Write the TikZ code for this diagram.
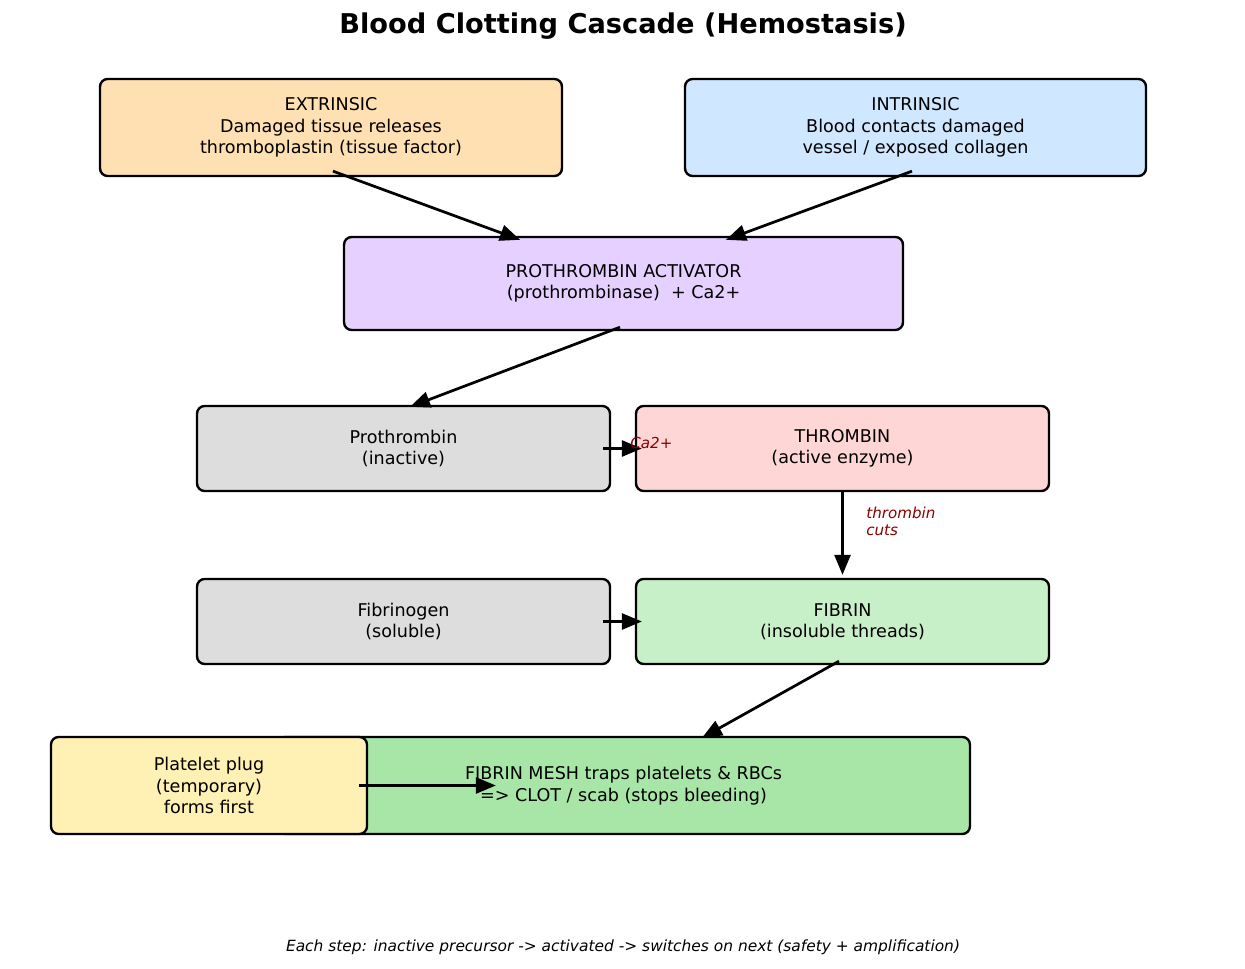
\documentclass[tikz,border=0pt]{standalone}
\usepackage{fontspec}
\setmainfont{DejaVu Sans}
\definecolor{extorange}{RGB}{255, 224, 178}
\definecolor{intblue}{RGB}{208, 232, 255}
\definecolor{actpurple}{RGB}{230, 208, 255}
\definecolor{inactgray}{RGB}{221, 221, 221}
\definecolor{thrpink}{RGB}{255, 214, 214}
\definecolor{fibgreen}{RGB}{200, 240, 200}
\definecolor{meshgreen}{RGB}{168, 230, 168}
\definecolor{plugyellow}{RGB}{255, 240, 180}
\definecolor{labred}{RGB}{139, 0, 0}
\usetikzlibrary{arrows.meta, calc}

\begin{document}
\begin{tikzpicture}[x=0.02cm, y=-0.02cm,
  box/.style={draw, line width=1.35pt, rounded corners=0.15cm, align=center, inner sep=0pt,
    font=\fontsize{10}{12.2}\selectfont},
  arr/.style={-{Triangle[length=0.4cm, width=0.32cm]}, line width=1.55pt},
  lab/.style={text=labred, font=\fontsize{8.6}{9.8}\itshape\selectfont, inner sep=0pt}]
  \useasboundingbox (0, 0) rectangle (1245, 969);

  \node[font=\fontsize{15.5}{18}\bfseries\selectfont] (title) at (623, 26) {Blood Clotting Cascade (Hemostasis)};

  % Pathways
  \node[box, fill=extorange, minimum width=9.24cm, minimum height=1.94cm] (ext) at (331, 127.5)
    {EXTRINSIC\\Damaged tissue releases\\thromboplastin (tissue factor)};
  \node[box, fill=intblue, minimum width=9.22cm, minimum height=1.94cm] (int) at (915.5, 127.5)
    {INTRINSIC\\Blood contacts damaged\\vessel / exposed collagen};

  % Activator
  \node[box, fill=actpurple, minimum width=11.18cm, minimum height=1.86cm] (act) at (623.5, 283.5)
    {PROTHROMBIN ACTIVATOR\\(prothrombinase)\ \ + Ca2+};

  % Prothrombin -> thrombin
  \node[box, fill=inactgray, minimum width=8.26cm, minimum height=1.7cm] (pro) at (403.5, 448.5)
    {Prothrombin\\(inactive)};
  \node[box, fill=thrpink, minimum width=8.26cm, minimum height=1.7cm] (thr) at (842.5, 448.5)
    {THROMBIN\\(active enzyme)};

  % Fibrinogen -> fibrin
  \node[box, fill=inactgray, minimum width=8.26cm, minimum height=1.7cm] (fgn) at (403.5, 621.5)
    {Fibrinogen\\(soluble)};
  \node[box, fill=fibgreen, minimum width=8.26cm, minimum height=1.7cm] (fbn) at (842.5, 621.5)
    {FIBRIN\\(insoluble threads)};

  % Clot
  \node[box, fill=meshgreen, minimum width=13.86cm, minimum height=1.94cm] (mesh) at (623.5, 785.5)
    {FIBRIN MESH traps platelets \& RBCs\\=> CLOT / scab (stops bleeding)};
  \node[box, fill=plugyellow, minimum width=6.32cm, minimum height=1.94cm] (plug) at (209, 785.5)
    {Platelet plug\\(temporary)\\forms first};

  % Arrows
  \draw[arr] ([xshift=0.04cm, yshift=0.12cm]ext.south) -- ([xshift=-2.07cm, yshift=-0.08cm]act.north);
  \draw[arr] ([xshift=-0.07cm, yshift=0.12cm]int.south) -- ([xshift=2.05cm, yshift=-0.08cm]act.north);
  \draw[arr] ([xshift=-0.07cm, yshift=0.08cm]act.south) -- ([xshift=0.13cm, yshift=-0.04cm]pro.north);
  \draw[arr] ([xshift=-0.16cm]pro.east) -- ([xshift=0.14cm]thr.west);
  \draw[arr] (thr.south) -- ([yshift=0.06cm]fbn.north);
  \draw[arr] ([xshift=-0.16cm]fgn.east) -- ([xshift=0.14cm]fbn.west);
  \draw[arr] ([xshift=-0.07cm, yshift=0.08cm]fbn.south) -- ([xshift=1.57cm, yshift=-0.04cm]mesh.north);
  \draw[arr] ([xshift=-0.18cm]plug.east) -- ([xshift=4.4cm]mesh.west);

  \node[lab, anchor=west] (ca) at (630, 443) {Ca2+};
  \node[lab, anchor=west, align=left] (cuts) at (866, 521.5) {thrombin\\cuts};

  \node[font=\fontsize{8.78}{10}\itshape\selectfont] (note) at (623, 947)
    {Each step: inactive precursor -> activated -> switches on next (safety + amplification)};
\end{tikzpicture}
\end{document}
